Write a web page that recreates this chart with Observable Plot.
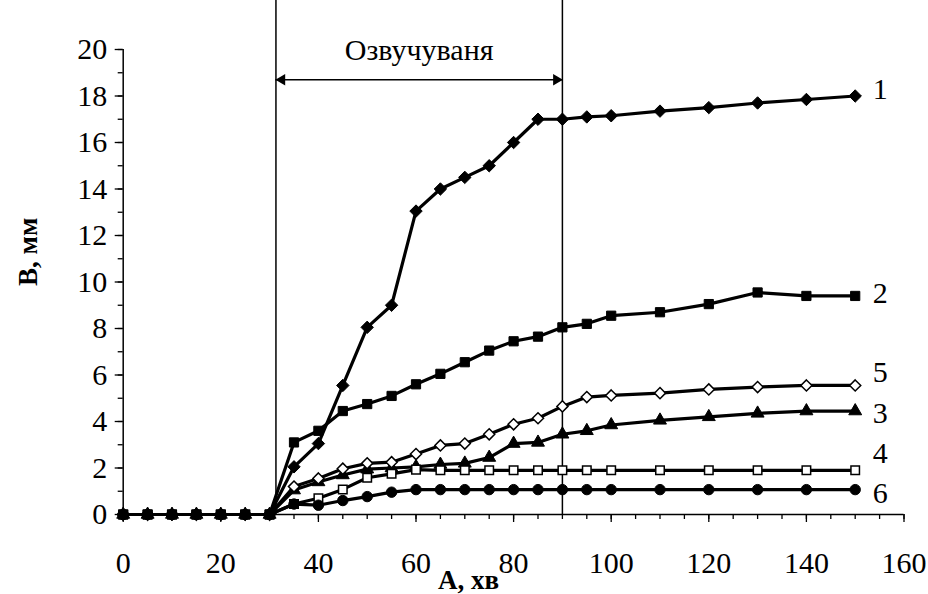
<!DOCTYPE html>
<html>
<head>
<meta charset="utf-8">
<script src="https://cdn.jsdelivr.net/npm/d3@7"></script>
<script src="https://cdn.jsdelivr.net/npm/@observablehq/plot@0.6"></script>
<style>
  html, body { margin: 0; padding: 0; background: white; }
</style>
</head>
<body>
<div id="chart"></div>
<script>
// ---- data ----
const minutes = [0,5,10,15,20,25,30,35,40,45,50,55,60,65,70,75,80,85,90,95,100,110,120,130,140,150];
const series1 = [0,0,0,0,0,0,0, 2.05,3.05,5.55,8.05,9.0,13.05,14.0,14.5,15.0,16.0,17.0,17.0,17.1,17.15, 17.35,17.5,17.7,17.85,18.0];
const series2 = [0,0,0,0,0,0,0, 3.1,3.6,4.45,4.75,5.1,5.6,6.05,6.55,7.05,7.45,7.65,8.05,8.2,8.55, 8.7,9.05,9.55,9.4,9.4];
const series3 = [0,0,0,0,0,0,0, 1.05,1.4,1.7,1.95,2.0,2.05,2.15,2.2,2.45,3.05,3.1,3.45,3.6,3.85, 4.05,4.2,4.35,4.45,4.45];
const series4 = [0,0,0,0,0,0,0, 0.45,0.7,1.08,1.58,1.75,1.93,1.9,1.9,1.9,1.9,1.9,1.9,1.9,1.9, 1.9,1.9,1.9,1.9,1.9];
const series5 = [0,0,0,0,0,0,0, 1.2,1.55,1.97,2.2,2.25,2.6,2.97,3.05,3.45,3.88,4.14,4.65,5.05,5.12, 5.22,5.38,5.48,5.55,5.55];
const series6 = [0,0,0,0,0,0,0, 0.45,0.4,0.6,0.77,0.96,1.07,1.07,1.07,1.07,1.07,1.07,1.07,1.07,1.07, 1.07,1.07,1.07,1.07,1.07];
const seriesNames = ["1","2","3","4","5","6"];
const seriesValues = [series1, series2, series3, series4, series5, series6];
const xTickLabels = [0,20,40,60,80,100,120,140,160];
const yTickLabels = [0,2,4,6,8,10,12,14,16,18,20];
const sonication = [31.3, 90];
const sonicationLabel = "Озвучуваня";
const xTitle = "А, хв";
const yTitle = "В, мм";

// ---- build table ----
const rows = seriesNames.flatMap((name, i) =>
  minutes.map((m, j) => ({series: name, minute: m, value: seriesValues[i][j]})));

const styleOf = {
  "1": {symbol: "diamond2", fill: "black", r: 5.6, sw: 1, labelDy: -7},
  "2": {symbol: "square", fill: "black", r: 5.2, sw: 1, labelDy: -3},
  "3": {symbol: "triangle", fill: "black", r: 4.8, sw: 1, labelDy: 2},
  "4": {symbol: "square", fill: "white", r: 4.8, sw: 1.5, labelDy: -17},
  "5": {symbol: "diamond2", fill: "white", r: 5, sw: 1.5, labelDy: -13},
  "6": {symbol: "circle", fill: "black", r: 5.2, sw: 1, labelDy: 4}
};

const seriesMarks = seriesNames.flatMap(name => {
  const data = rows.filter(d => d.series === name);
  const s = styleOf[name];
  const last = data[data.length - 1];
  return [
    Plot.line(data, {x: "minute", y: "value", stroke: "black", strokeWidth: 3.2}),
    Plot.dot(data, {x: "minute", y: "value", symbol: () => s.symbol, r: s.r, fill: s.fill, stroke: "black", strokeWidth: s.sw}),
    Plot.text([last], {x: "minute", y: "value", text: "series", dx: 25, dy: s.labelDy, textAnchor: "middle", fontSize: 30})
  ];
});

const mid = (sonication[0] + sonication[1]) / 2;
const arrowY = 18.7;

const chart = Plot.plot({
  width: 928,
  height: 594,
  marginLeft: 122.7,
  marginRight: 24.5,
  marginTop: 49,
  marginBottom: 80,
  style: {fontFamily: "'Liberation Serif', 'Times New Roman', serif", fontSize: "30px", background: "white", color: "black", overflow: "visible"},
  x: {domain: [0, 160], axis: null},
  y: {domain: [0, 20], axis: null},
  marks: [
    // minor ticks
    Plot.axisX(d3.range(0, 161, 5), {tickSize: 5, fill: "none", label: null, strokeWidth: 1.3}),
    Plot.axisY(d3.range(0, 21, 1), {tickSize: 5, fill: "none", label: null, strokeWidth: 1.3}),
    // major ticks + labels
    Plot.axisX(xTickLabels, {tickSize: 8, tickPadding: 29, label: null, strokeWidth: 1.3, fontSize: 30}),
    Plot.axisY(yTickLabels, {tickSize: 8, tickPadding: 8, label: null, strokeWidth: 1.3, fontSize: 30}),
    // axis lines
    Plot.ruleY([0], {stroke: "black", strokeWidth: 1.5}),
    Plot.ruleX([0], {stroke: "black", strokeWidth: 1.5}),
    // sonication bounds
    Plot.ruleX(sonication, {y1: 0, y2: 22.2, stroke: "black", strokeWidth: 1.5}),
    Plot.ruleY([arrowY], {x1: sonication[0], x2: sonication[1], stroke: "black", strokeWidth: 1.5}),
    Plot.dot([sonication[0]], {x: d => d, y: arrowY, symbol: "triangle", rotate: -90, r: 4.2, fill: "black", dx: 6}),
    Plot.dot([sonication[1]], {x: d => d, y: arrowY, symbol: "triangle", rotate: 90, r: 4.2, fill: "black", dx: -6}),
    Plot.text([sonicationLabel], {x: mid, y: arrowY, text: d => d, dy: -29, fontSize: 30, textAnchor: "middle"}),
    // series
    ...seriesMarks,
    // titles
    Plot.text([xTitle], {frameAnchor: "bottom", text: d => d, dx: -45, dy: 66, fontSize: 27, fontWeight: "bold", lineAnchor: "middle"}),
    Plot.text([yTitle], {frameAnchor: "left", text: d => d, dx: -95, dy: 4, rotate: -90, fontSize: 27, fontWeight: "bold", lineAnchor: "middle"})
  ]
});
document.getElementById("chart").appendChild(chart);
</script>
</body>
</html>
